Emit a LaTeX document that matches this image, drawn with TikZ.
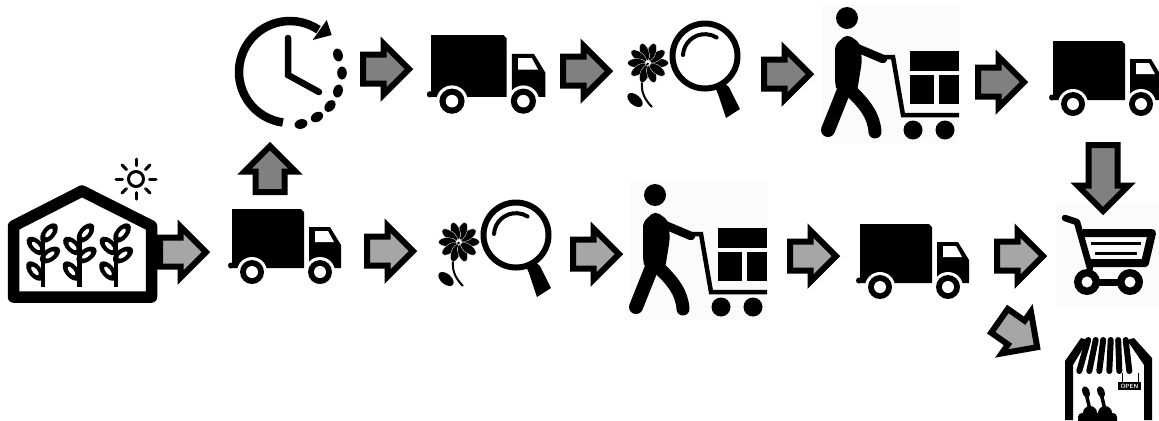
\documentclass[tikz,border=0pt]{standalone}
\usepackage{tikz}
\usetikzlibrary{shapes.arrows}
\definecolor{darkflow}{HTML}{808080}
\definecolor{lightflow}{HTML}{A6A6A6}
\definecolor{iconback}{HTML}{FBFBFB}

\tikzset{
  flowarrow/.style={single arrow,draw=black,line width=.6mm,anchor=tail,outer sep=0pt,
    inner xsep=0pt,inner ysep=1.15mm,minimum width=4.5mm,minimum height=4.6mm,
    single arrow tip angle=90,single arrow head extend=1.1mm},
  pics/truck/.style={code={
    \fill (0,0) -- (69,0) -- (72,3) -- (72,59) -- (0,59) -- cycle;
    \fill (-1,56.5) circle (3);
    \fill (77,18) -- (98,18) -- (109,36) -- (109,59) -- (77,59) -- cycle;
    \fill[white] (83,22) -- (96,22) -- (102,33) -- (83,33) -- cycle;
    \foreach \w in {20,88}{
      \fill[white] (\w,63) circle (15);
      \fill (\w,63) circle (12);
      \fill[white] (\w,63) circle (6);
    }
  }},
  pics/inspect/.style={code={
    % lens, handle, flower
    \draw[line width=.6mm] (0,0) circle (32.5);
    \draw[line width=.4mm,line cap=round] (-22,-1) arc (183:302:22);
    \fill (9,29) -- (18,26) -- (24,31) -- (35,53) -- (21,62) -- (13,38) -- cycle;
    \draw[line width=.2mm] (-57,7) .. controls (-64,22) and (-68,36) .. (-53,51);
    \foreach \a in {0,36,...,324}
      \filldraw[draw=white,line width=.03mm,shift={(-57,7)},rotate=\a] (11.5,0) ellipse (9 and 4.4);
    \fill[shift={(-70,44)},rotate=-40] (0,0) ellipse (9 and 5.2);
  }},
  pics/porter/.style={code={
    \fill[iconback] (-25,-13) rectangle (112,125);
    \fill (0,0) circle (11);
    \fill[rounded corners=.5mm] (-12,27) -- (0,16) -- (13,25) -- (15,43) -- (10,74) -- (-10,74) -- (-12,65) -- cycle;
    \draw[line width=.85mm,line cap=round] (10,30) -- (36,41);
    \draw[line width=1.4mm,line cap=round] (-3,72) -- (-19,112);
    \draw[line width=1.3mm,line cap=round] (3,72) .. controls (18,86) and (27,98) .. (28,114);
    \draw[line width=.45mm] (36,39) -- (46,39) -- (56,97) -- (112,97);
    \fill (63,33) rectangle (112,53);
    \fill (63,57) rectangle (87,86);
    \fill (92,57) rectangle (112,86);
    \fill (66,112) circle (9.5);
    \fill (98,112) circle (9.5);
  }},
  pics/seedling/.style={code={
    \draw[line width=.45mm] (0,10) -- (0,60);
    \foreach \x/\y/\r in {6/6/50,7/28/35,-7/19/-45,-8/44/-50}{
      \fill[shift={(\x,\y)},rotate=\r] (0,0) ellipse (11.5 and 6.5);
      \fill[white,shift={(\x,\y)},rotate=\r] (0,0) ellipse (5.5 and 2.3);
    }
  }}
}

\begin{document}
\begin{tikzpicture}[x=.1mm,y=-.1mm]
  \clip (0,0) rectangle (1159,420);
  \fill[white] (0,0) rectangle (1159,420);

  % greenhouse and sun
  \draw[line width=1.15mm,line join=round] (13.5,297) -- (13.5,226) -- (82,191) -- (151.5,226) -- (151.5,297) -- cycle;
  \foreach \x in {43,79.5,116}
    \pic at (\x,227) {seedling};
  \draw[line width=.3mm] (136,179) circle (7.5);
  \foreach \a in {0,45,...,315}
    \draw[line width=.3mm,line cap=round] (136,179) ++(\a:13.5) -- ++(\a:6.5);

  % clock
  \draw[line width=.85mm] (290,72) ++(98:51) arc (98:304:51);
  \fill (326.7,20) -- (331.7,35) -- (312.7,40) -- cycle;
  \foreach \x/\y/\r in {338/55/-75,342/73/-90,338/91/-105,330/106/-130,317/117/-150,301/124/-165}
    \fill[shift={(\x,\y)},rotate=\r] (0,0) ellipse (6.5 and 4.8);
  \draw[line width=.65mm,line cap=round,line join=miter] (288,38) -- (288,75) -- (319,92);

  % trucks
  \pic[scale=1.05] at (431,35) {truck};
  \pic at (1053,41) {truck};
  \pic at (232,209) {truck};
  \pic at (860,224) {truck};

  % inspection and picking
  \pic at (705,56) {inspect};
  \pic at (516,235) {inspect};
  \pic at (847,18) {porter};
  \pic at (655,195) {porter};

  % shopping cart
  \fill[iconback] (1057,203) rectangle (1159,306);
  \draw[line width=.65mm,line cap=round,line join=round] (1065,218) -- (1077,222) -- (1090,268);
  \draw[line width=.8mm,line join=round] (1083,233) -- (1152,233) -- (1145,263) -- (1091,263);
  \draw[line width=.35mm] (1091,243.5) -- (1141,243.5);
  \draw[line width=.35mm] (1095,253.5) -- (1137,253.5);
  \draw[line width=.7mm] (1087,282) -- (1130,282);
  \foreach \x in {1087,1130}{
    \fill (\x,282) circle (13);
    \fill[white] (\x,282) circle (5.5);
  }

  % store
  \fill (1065,420) -- (1065,361) -- (1081,338) -- (1088,340) -- (1073,365) -- (1073,420) -- cycle;
  \fill (1152,420) -- (1152,358) -- (1134,338) -- (1127,340) -- (1144,365) -- (1144,420) -- cycle;
  \foreach \i in {1,...,6}
    \draw[line width=.6mm,line cap=round] (1080.7+\i*7.5,340) -- (1069.3+\i*10,371);
  \draw[line width=.1mm] (1122,373) -- (1122,382) (1138,373) -- (1138,382);
  \node[fill=black,text=white,inner sep=0pt,minimum width=2.3mm,minimum height=.8mm,
    font=\fontsize{1.7}{2}\selectfont\sffamily\bfseries] (opensign) at (1129.5,386) {OPEN};
  \foreach \x in {1086,1101}{
    \draw[line width=.35mm] (\x,393) -- (\x+4,410);
    \fill[shift={(\x,392)},rotate=-70] (0,0) ellipse (6 and 3.5);
    \fill (\x+4,413) circle (7);
  }
  \fill[rounded corners=.4mm] (1078,428) -- (1078,413) -- (1117,413) -- (1117,428) -- cycle;

  % flow arrows
  \foreach \n/\x/\y/\r/\c in {clock/270/192/90/darkflow,load/363/69/0/darkflow,
      check/563/71/0/darkflow,pick/764/74/0/darkflow,ship/978/82/0/darkflow,
      house/160/252/0/lightflow,test/367/251/0/lightflow,sort/573/254/0/lightflow,
      send/790/256/0/lightflow,sell/997/256/0/lightflow,store/999.5/320.8/-35/lightflow}
    \node[flowarrow,fill=\c,rotate=\r] (arrow\n) at (\x,\y) {};
  \node[flowarrow,fill=darkflow,rotate=-90,minimum height=6.6mm] (arrowshop) at (1103,145) {};
\end{tikzpicture}
\end{document}
